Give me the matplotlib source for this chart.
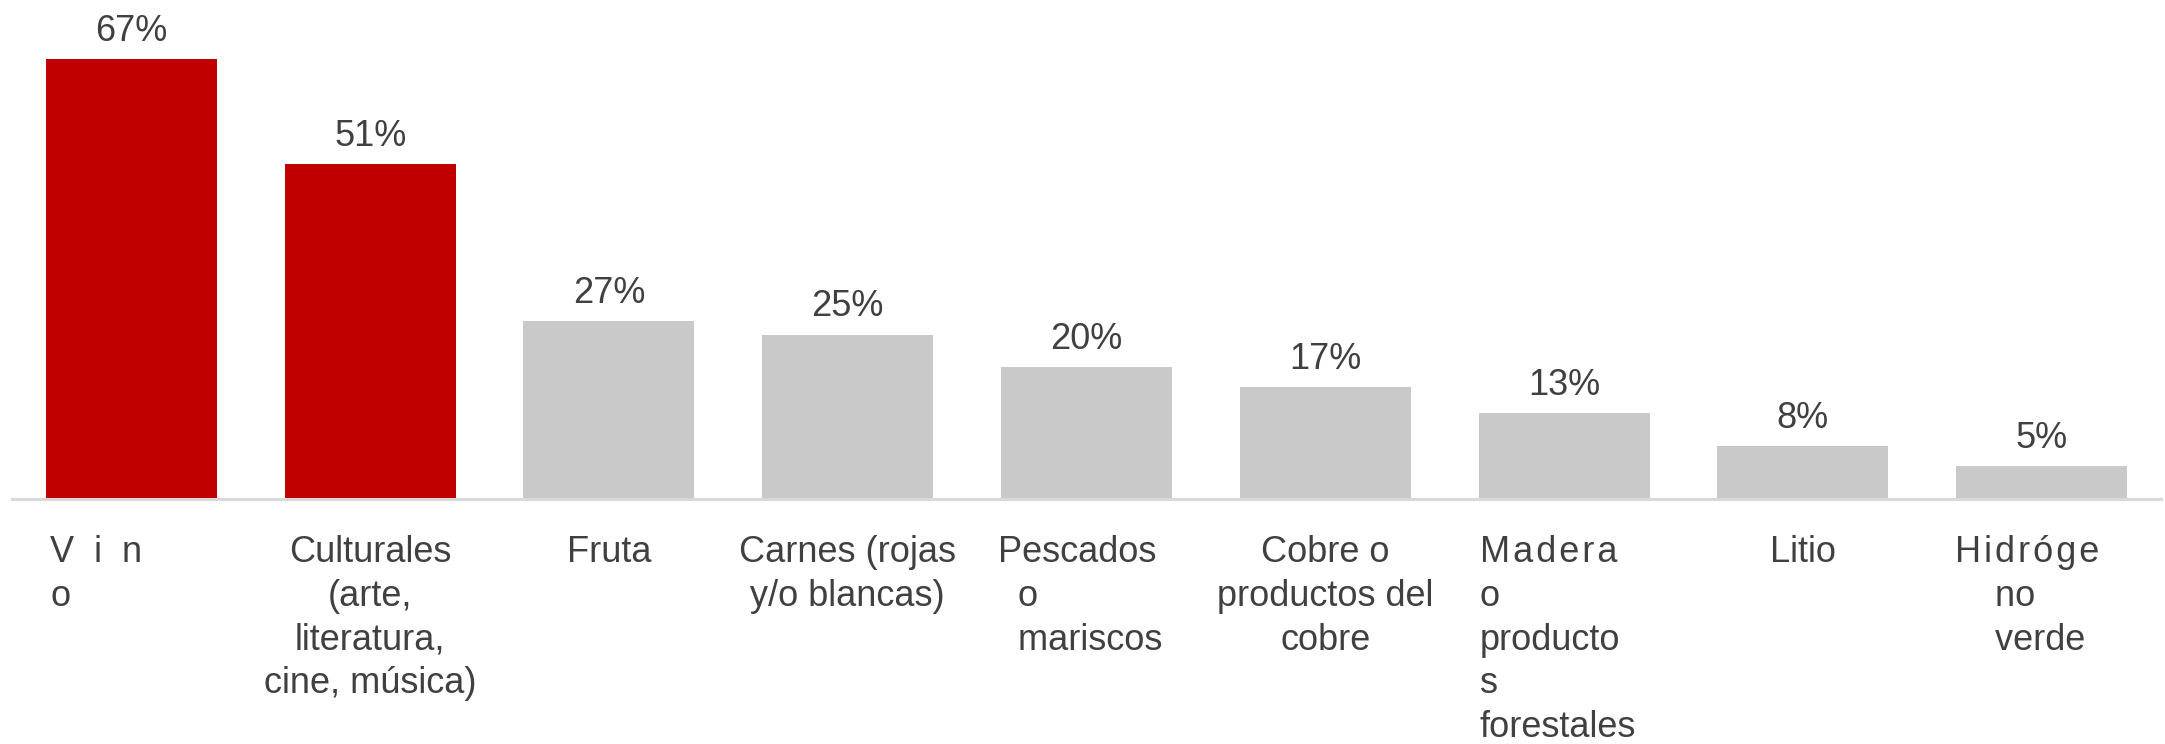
import numpy as np
import matplotlib
matplotlib.use("Agg")
import matplotlib.pyplot as plt

# ── data ────────────────────────────────────────────────────────────────────
HS = "\u200a"  # hair space, mimics the stretched letters of the original
categories = [
    "V  i  n\no",
    "Culturales\n(arte,\nliteratura,\ncine, música)",
    "Fruta",
    "Carnes (rojas\ny/o blancas)",
    "Pescados\n  o\n  mariscos",
    "Cobre o\nproductos del\ncobre",
    HS.join("Madera") + "\no\nproducto\ns\nforestales",
    "Litio",
    HS.join("Hidróge") + "\n    no\n    verde",
]
values = [67, 51, 27, 25, 20, 17, 13, 8, 5]
highlighted = [True, True, False, False, False, False, False, False, False]

# label alignment per category ("left" = anchored near the bar's left edge)
label_align = ["left", "center", "center", "center", "left",
               "center", "left", "center", "left"]
label_dx = [3, 0, 0, 0, -2, 0, 1, 0, -1]   # points

RED = "#C00000"
GREY = "#C9C9C9"
TEXT = "#404040"

plt.rcParams["font.family"] = ["Liberation Sans", "DejaVu Sans"]

fig = plt.figure(figsize=(21.65, 7.44), dpi=100)
ax = fig.add_axes([12 / 2165, 1 - 498.5 / 744, 2149 / 2165, 498.5 / 744])

x = np.arange(len(values))
bar_w = 0.716
colors = [RED if h else GREY for h in highlighted]
ax.bar(x, values, width=bar_w, color=colors, zorder=2)

ax.set_xlim(-0.5, len(values) - 0.5)
ax.set_ylim(0, 76)

# value labels
for xi, v in zip(x, values):
    ax.annotate(f"{v}%", xy=(xi, v), xytext=(0, 13), textcoords="offset points",
                ha="center", va="baseline", fontsize=26, color=TEXT)

# category labels
for xi, lab, al, dx in zip(x, categories, label_align, label_dx):
    anchor = xi - bar_w / 2 if al == "left" else xi
    ax.annotate(lab, xy=(anchor, 0), xytext=(dx, -26.5),
                textcoords="offset points", ha=al, va="top",
                multialignment=al, fontsize=26, color=TEXT,
                linespacing=1.32, annotation_clip=False)

for s in ["top", "right", "left"]:
    ax.spines[s].set_visible(False)
ax.spines["bottom"].set_color("#D9D9D9")
ax.spines["bottom"].set_linewidth(2.2)
ax.set_xticks([])
ax.set_yticks([])

fig.savefig("out.png", dpi=100)
